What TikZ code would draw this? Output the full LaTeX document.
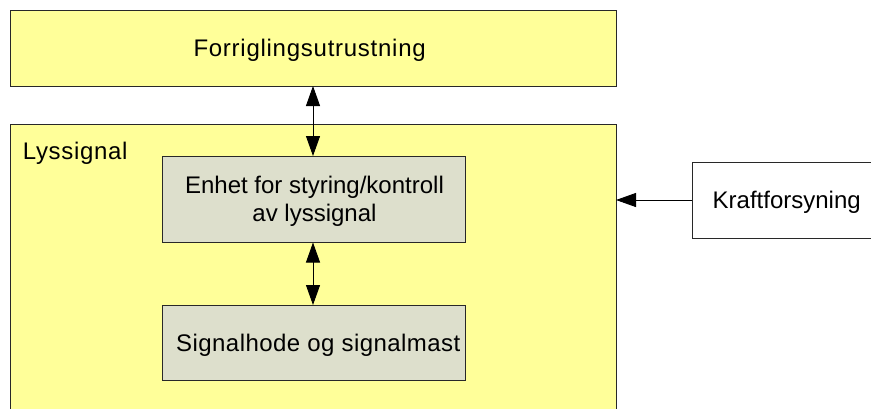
\documentclass[tikz,border=0pt]{standalone}
\usepackage{fontspec}
\setmainfont{Liberation Sans}
\usetikzlibrary{arrows.meta}
\definecolor{boxyellow}{RGB}{255,255,153}
\definecolor{boxgray}{RGB}{221,223,204}
\definecolor{edgegray}{RGB}{40,40,40}
\tikzset{
  yellowbox/.style={draw=edgegray, line width=1pt, fill=boxyellow},
  innerbox/.style={draw=edgegray, line width=1pt, fill=boxgray},
  whitebox/.style={draw=edgegray, line width=1pt, fill=white},
  lbl/.style={font=\fontsize{24}{28.7}\selectfont, inner sep=0pt, anchor=base west},
  lblc/.style={font=\fontsize{24}{28.7}\selectfont, inner sep=0pt, anchor=base},
  conn/.style={line width=0.9pt, draw=black},
  tip/.style={-{Triangle[length=20pt,width=14pt]}},
  dtip/.style={{Triangle[length=20pt,width=14pt]}-{Triangle[length=20pt,width=14pt]}}
}
\begin{document}
\begin{tikzpicture}[x=1pt,y=-1pt]
\useasboundingbox (0,0) rectangle (871,408);
\clip (0,0) rectangle (871,408);
\fill[white] (0,0) rectangle (871,408);
% top box
\draw[yellowbox] (10,10) rectangle (616,86);
\node[lbl] (forr) at (193.3,56.7) {\addfontfeature{LetterSpace=3.1}Forriglingsutrustning};
\coordinate (forrS) at (313,86);
% big box
\draw[yellowbox] (10,124) rectangle (616,420);
\node[lbl] (lys) at (22.7,159) {\addfontfeature{LetterSpace=2.8}Lyssignal};
\coordinate (lysE) at (616,200);
% inner boxes
\node[innerbox, minimum width=303pt, minimum height=86pt, inner sep=0pt] (enhet) at (313.5,199) {};
\node[lblc] (enhet1) at (314.5,193) {Enhet for styring/kontroll};
\node[lblc] (enhet2) at (314.5,221.7) {av lyssignal};
\node[innerbox, minimum width=303pt, minimum height=75pt, inner sep=0pt] (sig) at (313.5,343) {};
\node[lbl] (sigt) at (176,351.7) {\addfontfeature{LetterSpace=1.85}Signalhode og signalmast};
% Kraftforsyning
\node[whitebox, minimum width=220pt, minimum height=76pt, inner sep=0pt, anchor=west] (kraft) at (691.5,200) {};
\node[lbl] (kraftt) at (712.5,208) {Kraftforsyning};
% connectors
\draw[conn, dtip] (forrS) -- (313,156);
\draw[conn, dtip] (enhet.south -| 313,0) -- (sig.north -| 313,0);
\draw[conn, tip] (kraft.west) -- (lysE);
\end{tikzpicture}
\end{document}
